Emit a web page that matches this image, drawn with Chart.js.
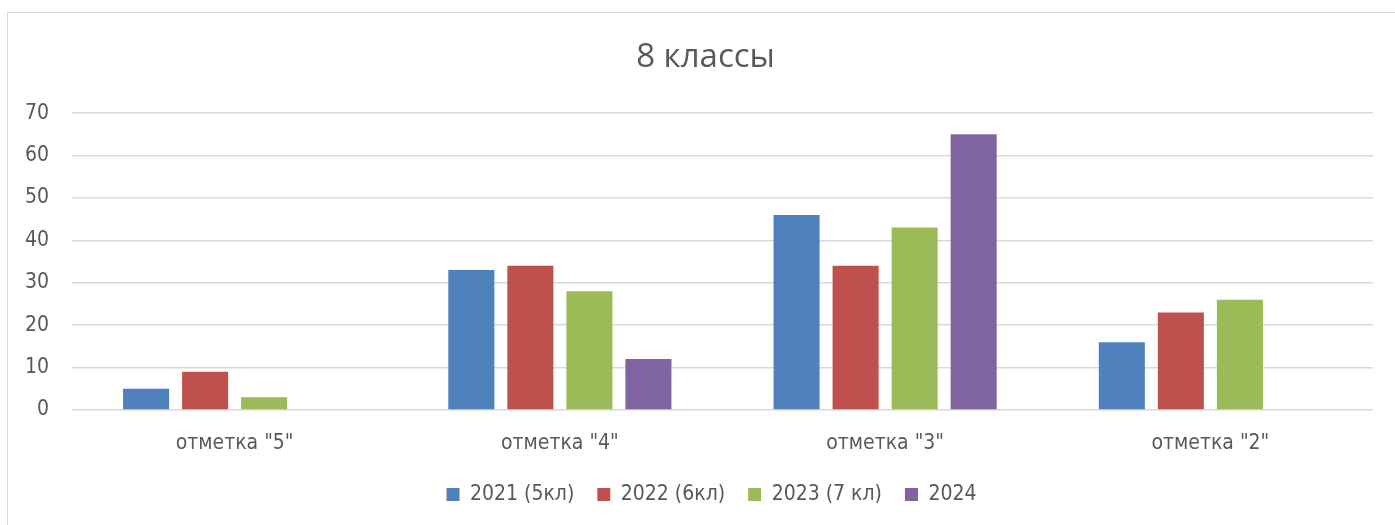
<!DOCTYPE html>
<html>
<head>
<meta charset="utf-8">
<script src="https://cdn.jsdelivr.net/npm/chart.js@4"></script>
<style>
html,body{margin:0;padding:0;background:#fff;overflow:hidden;}
#frame{position:absolute;left:7px;top:12px;width:1420px;height:560px;border:1.5px solid #d9d9d9;box-sizing:border-box;}
#wrap{position:absolute;left:0;top:0;width:1395px;height:525px;}
</style>
</head>
<body>
<div id="frame"></div>
<div id="wrap"><canvas id="c"></canvas></div>
<script>
const categories = ['отметка "5"', 'отметка "4"', 'отметка "3"', 'отметка "2"'];
const seriesNames = ['2021 (5кл)', '2022 (6кл)', '2023 (7 кл)', '2024'];
const values2021 = [5, 33, 46, 16];
const values2022 = [9, 34, 34, 23];
const values2023 = [3, 28, 43, 26];
const values2024 = [null, 12, 65, null];
const seriesColors = ['#4F81BD', '#C0504D', '#9BBB59', '#8064A2'];
const yTicks = [0, 10, 20, 30, 40, 50, 60, 70];
const titleText = '8 классы';

const FONT = '"Open Sans", "DejaVu Sans", sans-serif';
const NARROW = '"DejaVu Sans Condensed", "Open Sans", sans-serif';
const TXT = '#595959';
const allValues = [values2021, values2022, values2023, values2024];

const boxShift = {
  id: 'boxShift',
  afterLayout(chart) {
    if (chart.legend) { chart.legend.left += 25; chart.legend.right += 25; }
    if (chart.titleBlock) { chart.titleBlock.left += 19; chart.titleBlock.right += 19; }
  }
};

new Chart(document.getElementById('c'), {
  type: 'bar',
  plugins: [boxShift],
  data: {
    labels: categories,
    datasets: allValues.map((v, i) => ({
      label: seriesNames[i],
      data: v,
      backgroundColor: seriesColors[i],
      borderWidth: 0,
      categoryPercentage: 0.726,
      barPercentage: 0.78
    }))
  },
  options: {
    responsive: true,
    maintainAspectRatio: false,
    animation: false,
    layout: { padding: { left: 0, right: 22, top: 0, bottom: 10 } },
    plugins: {
      title: {
        display: true,
        text: titleText,
        color: TXT,
        font: { family: FONT, size: 33, weight: 'normal' },
        padding: { top: 38, bottom: 35.5 }
      },
      legend: {
        position: 'bottom',
        labels: {
          color: TXT,
          font: { family: NARROW, size: 21 },
          boxWidth: 13,
          boxHeight: 13,
          padding: 23
        }
      },
      tooltip: { enabled: false }
    },
    scales: {
      x: {
        grid: { display: false, drawTicks: false },
        border: { display: false },
        ticks: { color: TXT, font: { family: NARROW, size: 21 }, padding: 21 },
        afterFit: s => { s.height = 51; }
      },
      y: {
        min: 0,
        max: 70,
        afterBuildTicks: s => { s.ticks = yTicks.map(v => ({ value: v })); },
        grid: { color: '#d9d9d9', lineWidth: 1.5, drawTicks: false },
        border: { display: false },
        ticks: { color: TXT, font: { family: NARROW, size: 21 }, padding: 23 },
        afterFit: s => { s.width = 72; }
      }
    }
  }
});
</script>
</body>
</html>
